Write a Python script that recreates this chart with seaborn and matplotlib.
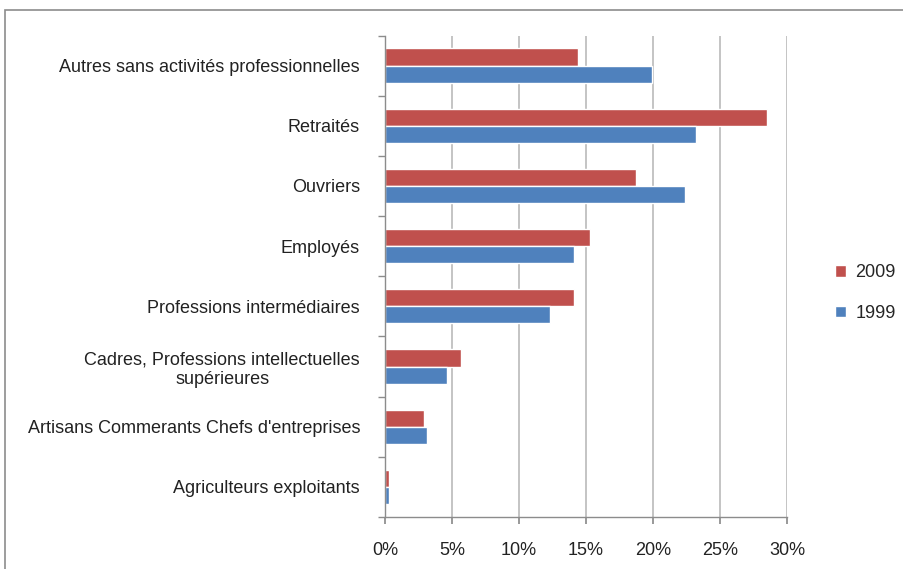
import matplotlib
matplotlib.use("Agg")
import matplotlib.pyplot as plt
import matplotlib.patches as mpatches
from matplotlib.ticker import FixedLocator, FuncFormatter
import seaborn as sns
import pandas as pd

categories = [
    "Autres sans activités professionnelles",
    "Retraités",
    "Ouvriers",
    "Employés",
    "Professions intermédiaires",
    "Cadres, Professions intellectuelles\nsupérieures",
    "Artisans Commerants Chefs d'entreprises",
    "Agriculteurs exploitants",
]
values_2009 = [14.4, 28.5, 18.7, 15.3, 14.1, 5.7, 2.9, 0.3]
values_1999 = [19.9, 23.2, 22.4, 14.1, 12.3, 4.6, 3.1, 0.3]
series = ["2009", "1999"]
x_ticks = [0, 5, 10, 15, 20, 25, 30]

df = pd.DataFrame({
    "cat": categories * 2,
    "val": values_2009 + values_1999,
    "year": ["2009"] * len(categories) + ["1999"] * len(categories),
})

sns.set_theme(style="white")
plt.rcParams["font.family"] = ["Liberation Sans", "DejaVu Sans"]

FS = 13

fig = plt.figure(figsize=(9.04, 5.69), dpi=100)
ax = fig.add_axes([0.426, 0.0914, 0.4446, 0.8462])

palette = {"2009": "#C0504D", "1999": "#4F81BD"}
sns.barplot(data=df, x="val", y="cat", hue="year", hue_order=series,
            order=categories, palette=palette, orient="h", width=0.57,
            saturation=1, ax=ax, legend=True)

ax.set_xlim(0, 30)
ax.set_ylim(len(categories) - 0.5, -0.5)
ax.set_xlabel("")
ax.set_ylabel("")

ax.xaxis.set_major_locator(FixedLocator(x_ticks))
ax.xaxis.set_major_formatter(FuncFormatter(lambda v, p: f"{int(v)}%"))
ax.grid(axis="x", color="#BFBFBF", linewidth=1.3)
ax.set_axisbelow(True)

for side in ("top", "right"):
    ax.spines[side].set_visible(False)
for side in ("left", "bottom"):
    ax.spines[side].set_color("#8C8C8C")
    ax.spines[side].set_linewidth(1.0)

ax.tick_params(axis="x", which="major", bottom=True, length=5, color="#8C8C8C",
               labelsize=FS, labelcolor="#222222", pad=13)
ax.tick_params(axis="y", which="major", left=False, labelsize=FS,
               labelcolor="#222222", pad=12)
ax.yaxis.set_minor_locator(FixedLocator([i - 0.5 for i in range(len(categories) + 1)]))
ax.tick_params(axis="y", which="minor", left=True, length=5, color="#8C8C8C")
for lbl in ax.get_yticklabels():
    lbl.set_horizontalalignment("right")
    lbl.set_multialignment("center")

ax.legend(title=None, frameon=False, loc="center left",
          bbox_to_anchor=(1.08, 0.465), fontsize=FS, handlelength=0.6,
          handleheight=0.6, labelspacing=1.3, handletextpad=0.5)

fig.patches.append(mpatches.Rectangle((0.006, -0.05), 1.1, 1.032,
                                      transform=fig.transFigure, fill=False,
                                      edgecolor="#8C8C8C", linewidth=1.2))

fig.savefig("out.png", dpi=100)
